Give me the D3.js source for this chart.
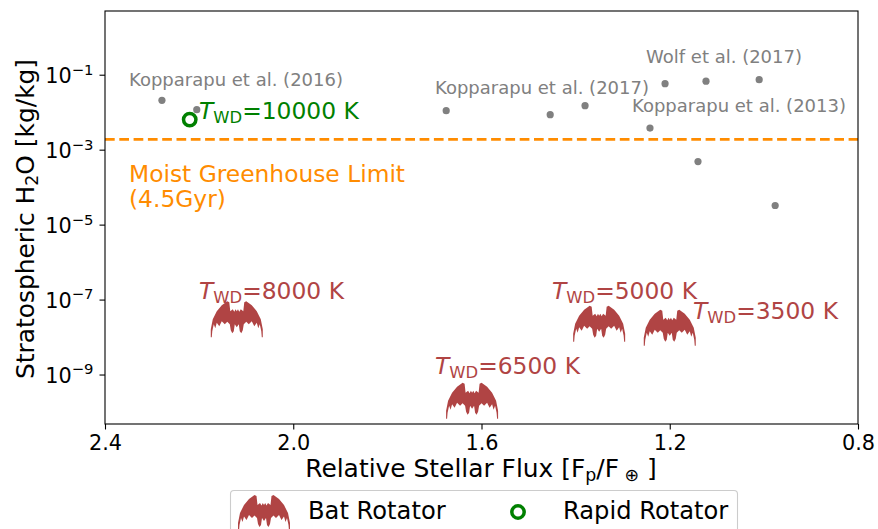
<!DOCTYPE html>
<html><head><meta charset="utf-8">
<script src="https://cdn.jsdelivr.net/npm/d3@7"></script>
<style>html,body{margin:0;padding:0;background:#fff;overflow:hidden}svg{display:block}text{font-family:"DejaVu Sans",sans-serif}</style>
</head><body><svg id="c" width="878" height="529"></svg>
<script>
const refFlux = [2.279, 2.205, 1.675, 1.454, 1.38, 1.242, 1.21, 1.123, 1.01, 1.14, 0.976];
const refH2O = [0.0207, 0.0117, 0.0110, 0.0086, 0.0149, 0.00376, 0.0575, 0.0671, 0.0736, 4.82e-4, 3.24e-5];
const batFlux = [2.12, 1.62, 1.35, 1.2];
const batH2O = [3.0e-8, 2.0e-10, 2.26e-8, 1.77e-8];
const batTemps = [8000, 6500, 5000, 3500];
const rapidFlux = [2.22];
const rapidH2O = [0.00634];
const limitH2O = 0.00189;
const xTicks = [2.4, 2.0, 1.6, 1.2, 0.8];
const yExponents = [-1, -3, -5, -7, -9];
const refLabels = ["Kopparapu et al. (2016)", "Kopparapu et al. (2017)", "Wolf et al. (2017)", "Kopparapu et al. (2013)"];
const batHalf = [[0,-8],[1.2,-10],[2.5,-7.5],[4,-10],[6.5,-8],[7.5,-17],[9.5,-18],[15,-14],[20,-8],[24,0],[26,10],[26,18],[25,18],[24.5,12],[23,5],[21.5,9],[20,3.5],[17.5,7],[15,2],[12,5],[9.5,2.5],[7,5],[6,11],[4.5,14],[3,12],[2,5],[0,8]];

const RED="#b04444", GREEN="#008000", ORANGE="#ff8c00", GRAY="#808080";
const svg=d3.select("#c");
const L=105,R=858,T=11,B=424;
const x=d3.scaleLinear().domain([2.4,0.8]).range([L,R]);
const y=d3.scaleLog().domain([Math.pow(10,0.7),Math.pow(10,-10.32)]).range([T,B]);
const batPath=d3.line()(batHalf.concat(batHalf.slice().reverse().map(p=>[-p[0],p[1]])))+"Z";

svg.append("line").attr("x1",L).attr("x2",R).attr("y1",y(limitH2O)).attr("y2",y(limitH2O))
  .attr("stroke",ORANGE).attr("stroke-width",2.7).attr("stroke-dasharray","9.7,4.6");

svg.selectAll(".ref").data(refFlux).join("circle").attr("class","ref")
  .attr("cx",d=>x(d)).attr("cy",(d,i)=>y(refH2O[i])).attr("r",3.6).attr("fill",GRAY);
svg.selectAll(".bat").data(batFlux).join("path").attr("class","bat").attr("d",batPath).attr("fill",RED)
  .attr("transform",(d,i)=>`translate(${x(d)},${y(batH2O[i])})`);
svg.selectAll(".rapid").data(rapidFlux).join("circle").attr("class","rapid")
  .attr("cx",d=>x(d)).attr("cy",(d,i)=>y(rapidH2O[i])).attr("r",6.2)
  .attr("fill","none").attr("stroke",GREEN).attr("stroke-width",3.5);

const gx=svg.append("g").attr("transform",`translate(0,${B})`)
  .call(d3.axisBottom(x).tickValues(xTicks).tickFormat(d3.format(".1f")).tickSize(5.5).tickPadding(6));
const gy=svg.append("g").attr("transform",`translate(${L},0)`)
  .call(d3.axisLeft(y).tickValues(yExponents.map(e=>Math.pow(10,e))).tickSize(5.5).tickPadding(6).tickFormat(""));
[gx,gy].forEach(g=>{g.select(".domain").remove();g.selectAll(".tick line").attr("stroke","#000").attr("stroke-width",1.1);});
gx.selectAll("text").attr("font-size",20.8).attr("fill","#000").style("font-family",'"DejaVu Sans"');
gy.selectAll(".tick text").each(function(d,i){
  const t=d3.select(this).attr("font-size",20.8).attr("fill","#000").attr("dy","0.38em").style("font-family",'"DejaVu Sans"');
  t.text(null);
  t.append("tspan").text("10");
  t.append("tspan").attr("font-size",14.8).attr("dy",-8.5).text("\u2212"+Math.abs(yExponents[i]));
});
svg.append("rect").attr("x",L).attr("y",T).attr("width",R-L).attr("height",B-T).attr("fill","none").attr("stroke","#000").attr("stroke-width",1.1);

function ann(px,py,txt,color,size){return svg.append("text").attr("x",px).attr("y",py).attr("fill",color).attr("font-size",size).text(txt);}
ann(129,86,refLabels[0],GRAY,18);
ann(435,94,refLabels[1],GRAY,18);
ann(646,63,refLabels[2],GRAY,18);
ann(632,112,refLabels[3],GRAY,18);
const moist=svg.append("text").attr("fill",ORANGE).attr("font-size",23.35);
moist.append("tspan").attr("x",129).attr("y",182).text("Moist Greenhouse Limit");
moist.append("tspan").attr("x",129).attr("y",207).text("(4.5Gyr)");

function tlabel(px,py,temp,color){
  const t=svg.append("text").attr("x",px).attr("y",py).attr("fill",color).attr("font-size",23.4);
  t.append("tspan").attr("font-style","italic").text("T");
  t.append("tspan").attr("font-size",16.4).attr("dy",4).text("WD");
  t.append("tspan").attr("dy",-4).text("="+temp+" K");
}
tlabel(199,119,10000,GREEN);
const batLabelPos=[[199,299],[435,374],[552,299],[693,319]];
batTemps.forEach((d,i)=>tlabel(batLabelPos[i][0],batLabelPos[i][1],d,RED));

const xl=svg.append("text").attr("x",481).attr("y",477).attr("text-anchor","middle").attr("font-size",24.9).attr("fill","#000");
xl.append("tspan").text("Relative Stellar Flux [F");
xl.append("tspan").attr("font-size",17.4).attr("dy",4).text("p");
xl.append("tspan").attr("dy",-4).text("/F");
xl.append("tspan").attr("font-size",17.4).attr("dy",4).text(" \u2295");
xl.append("tspan").attr("dy",-4).text(" ]");

const yl=svg.append("text").attr("transform","translate(34,219) rotate(-90)").attr("text-anchor","middle").attr("font-size",24.9).attr("fill","#000");
yl.append("tspan").text("Stratospheric H");
yl.append("tspan").attr("font-size",17.4).attr("dy",4).text("2");
yl.append("tspan").attr("dy",-4).text("O [kg/kg]");

svg.append("rect").attr("x",230.5).attr("y",490.5).attr("width",507).attr("height",60).attr("rx",3.5).attr("fill","#fff").attr("stroke","#ccc").attr("stroke-width",1.1);
svg.append("path").attr("d",batPath).attr("fill",RED).attr("transform","translate(264,513)");
svg.append("circle").attr("cx",518).attr("cy",512).attr("r",6.2).attr("fill","none").attr("stroke",GREEN).attr("stroke-width",3.5);
svg.append("text").attr("x",308).attr("y",519).attr("font-size",24.2).attr("fill","#000").text("Bat Rotator");
svg.append("text").attr("x",563).attr("y",519).attr("font-size",24.2).attr("fill","#000").text("Rapid Rotator");
</script></body></html>
